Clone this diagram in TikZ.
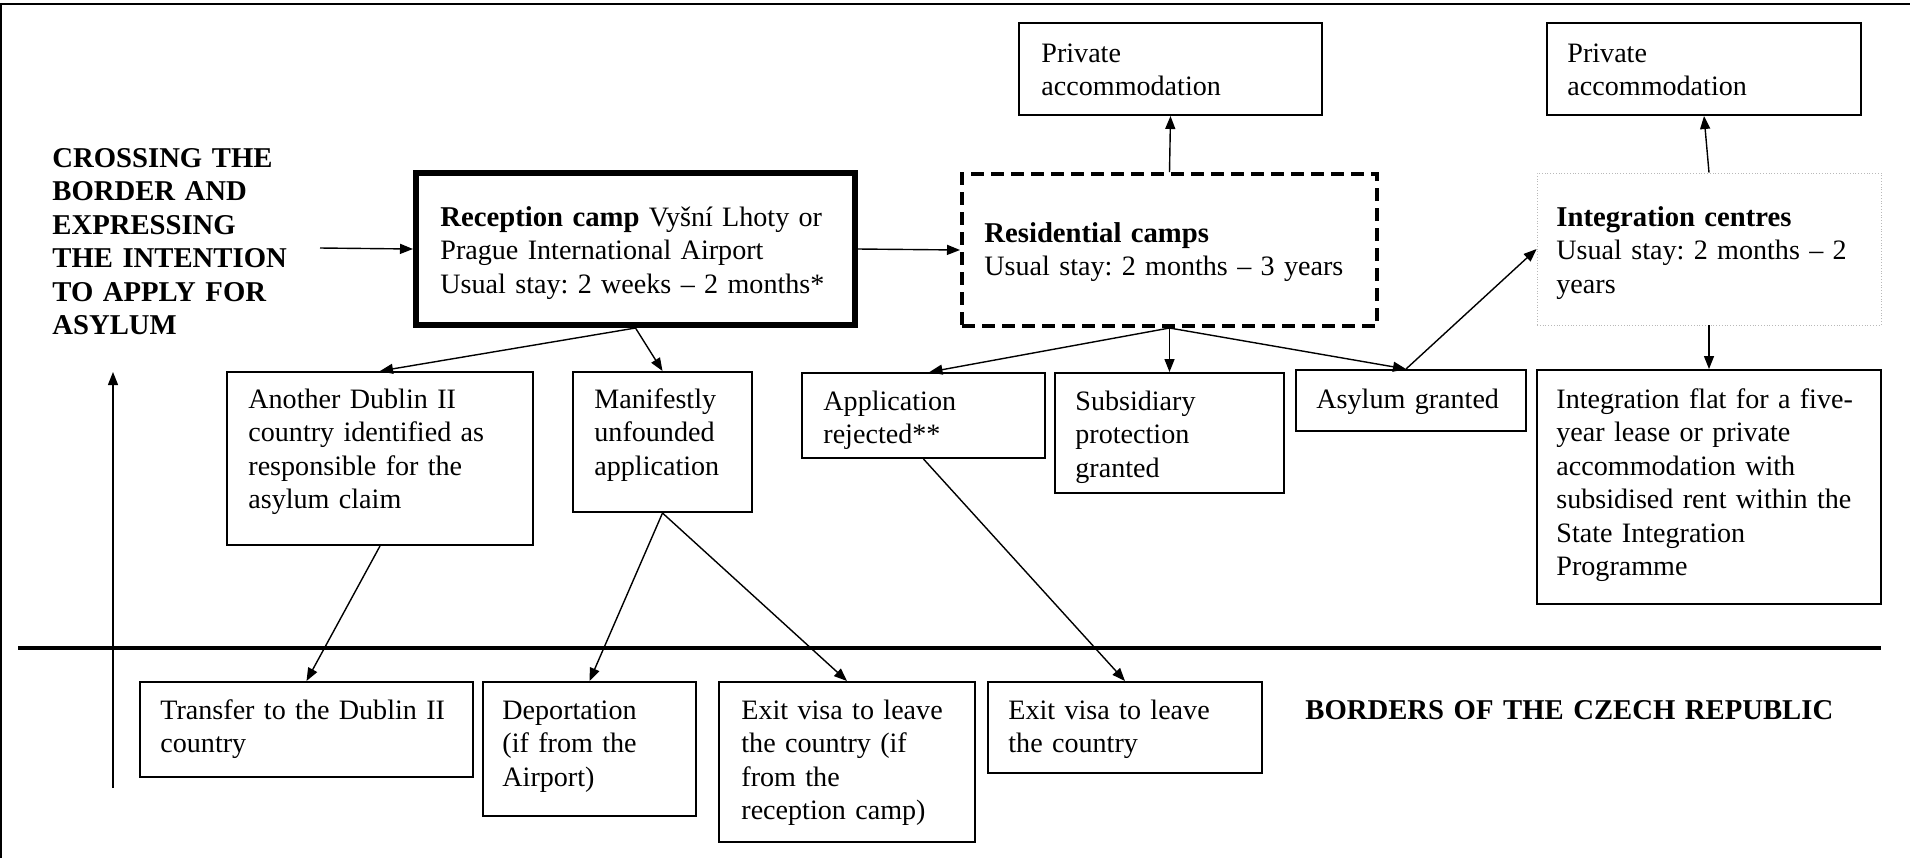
\documentclass[tikz,border=0pt]{standalone}
\usepackage{fontspec}
\setmainfont{Liberation Serif}
\usetikzlibrary{arrows.meta,fit,calc}
\tikzset{
  x=0.5pt, y=-0.5pt,
  box/.style={draw, line width=1pt, inner sep=0pt},
  txt/.style={inner sep=0pt, text width=400pt, align=left, anchor=base west, font=\fontsize{14.05}{16.75}\selectfont\frenchspacing},
  btxt/.style={txt, font=\fontsize{14.35}{16.75}\selectfont\bfseries},
  arr/.style={-{Triangle[length=6.5pt,width=5pt]}, line width=0.7pt},
}
\begin{document}
\begin{tikzpicture}
\useasboundingbox (0,0) rectangle (1910,858);
% frame
\coordinate (fl) at (1,858);
\coordinate (ft) at (1,4);
\coordinate (fr) at (1910,4);
\draw[line width=1.2pt] (fl) -- (ft) -- (fr);
% border line
\coordinate (bl) at (18,648);
\coordinate (br) at (1881,648);
\draw[line width=2.2pt] (bl) -- (br);

% boxes
\node[box, fit={(1019,23) (1322,115)}] (priv1) {};
\node[box, fit={(1547,23) (1861,115)}] (priv2) {};
\node[box, line width=3pt, fit={(416,173) (855,325)}] (recep) {};
\node[box, line width=2pt, dash pattern=on 6.5pt off 3.5pt, fit={(962,174) (1377,326)}] (resid) {};
\node[box, draw=gray!55, line width=0.4pt, densely dotted, fit={(1537,173) (1881,325)}] (integ) {};
\node[box, fit={(227,372) (533,545)}] (dublin) {};
\node[box, fit={(573,372) (752,512)}] (manif) {};
\node[box, fit={(802,373) (1045,458)}] (rej) {};
\node[box, fit={(1055,373) (1284,493)}] (subs) {};
\node[box, fit={(1296,370) (1526,431)}] (asyl) {};
\node[box, fit={(1537,370) (1881,604)}] (flat) {};
\node[box, fit={(140,682) (473,777)}] (transfer) {};
\node[box, fit={(483,682) (696,816)}] (deport) {};
\node[box, fit={(719,682) (975,842)}] (exita) {};
\node[box, fit={(988,682) (1262,773)}] (exitb) {};

% texts
\node[btxt] (cross) at (52,167) {CROSSING THE\\BORDER AND\\EXPRESSING\\THE INTENTION\\TO APPLY FOR\\ASYLUM};
\node[txt] (priv1-t) at (1041,62) {Private\\accommodation};
\node[txt] (priv2-t) at (1567,62) {Private\\accommodation};
\node[txt] (recep-t) at (440,226) {{\fontsize{14.35}{16.75}\selectfont\bfseries Reception camp} Vyšní Lhoty or\\Prague International Airport\\Usual stay: 2 weeks – 2 months*};
\node[txt] (resid-t) at (984,242) {{\fontsize{14.35}{16.75}\selectfont\bfseries Residential camps}\\Usual stay: 2 months – 3 years};
\node[txt] (integ-t) at (1556,226) {{\fontsize{14.35}{16.75}\selectfont\bfseries Integration centres}\\Usual stay: 2 months – 2\\years};
\node[txt] (dublin-t) at (248,408) {Another Dublin II\\country identified as\\responsible for the\\asylum claim};
\node[txt] (manif-t) at (594,408) {Manifestly\\unfounded\\application};
\node[txt] (rej-t) at (823,410) {Application\\rejected**};
\node[txt] (subs-t) at (1075,410) {Subsidiary\\protection\\granted};
\node[txt] (asyl-t) at (1316,408) {Asylum granted};
\node[txt] (flat-t) at (1556,408) {Integration flat for a five-\\year lease or private\\accommodation with\\subsidised rent within the\\State Integration\\Programme};
\node[txt] (transfer-t) at (160,719) {Transfer to the Dublin II\\country};
\node[txt] (deport-t) at (502,719) {Deportation\\(if from the\\Airport)};
\node[txt] (exita-t) at (741,719) {Exit visa to leave\\the country (if\\from the\\reception camp)};
\node[txt] (exitb-t) at (1008,719) {Exit visa to leave\\the country};
\node[btxt] (borders) at (1305,719) {BORDERS OF THE CZECH REPUBLIC};

% connectors
\coordinate (in) at (320,248);
\coordinate (upbot) at (113,788);
\coordinate (uptop) at (113,372);
\draw[arr] (upbot) -- (uptop);
\draw[arr] (in) -- (recep.west);
\draw[arr] (recep.east) -- (resid.west);
\draw[arr] (recep.south) -- (dublin.north);
\draw[arr] (recep.south) -- (manif.north);
\draw[arr] (resid.north) -- (priv1.south);
\draw[arr] (integ.north) -- (priv2.south);
\draw[arr] (integ.south) -- (flat.north);
\draw[arr] (resid.south) -- ($(rej.north)+(6,0)$);
\draw[arr] (resid.south) -- (subs.north);
\draw[arr] (resid.south) -- ($(asyl.north)+(-5,0)$);
\draw[arr] ($(asyl.north)+(-5,0)$) -- (integ.west);
\draw[arr] (dublin.south) -- (transfer.north);
\draw[arr] (manif.south) -- (deport.north);
\draw[arr] (manif.south) -- (exita.north);
\draw[arr] (rej.south) -- (exitb.north);
\end{tikzpicture}
\end{document}
